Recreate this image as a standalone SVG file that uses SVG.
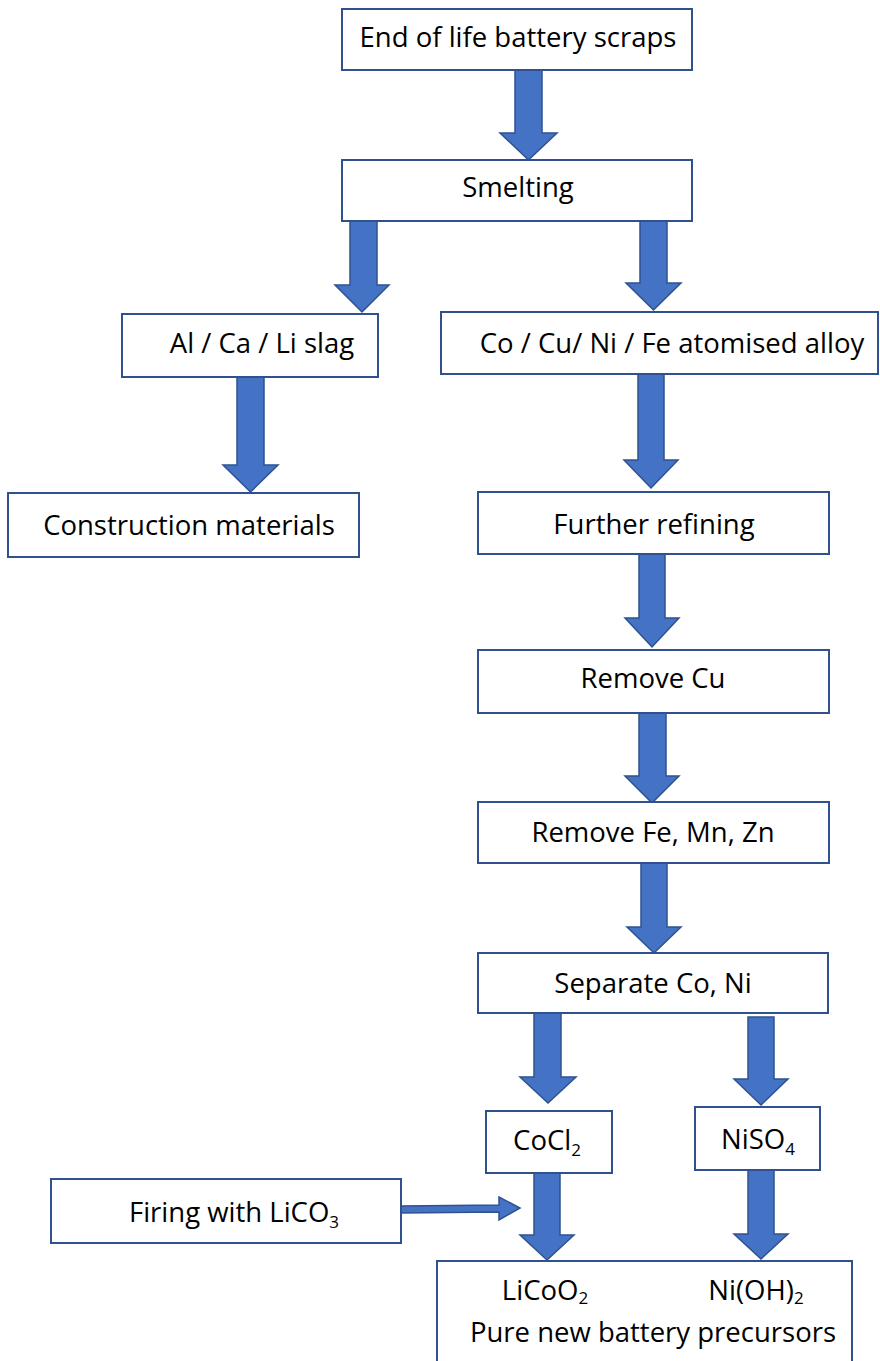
<svg xmlns="http://www.w3.org/2000/svg" width="880" height="1361" viewBox="0 0 880 1361">
<style>
.box{fill:#ffffff;stroke:#2F528F;stroke-width:2}
.arr{fill:#4472C4;stroke:#2F528F;stroke-width:1.5;stroke-linejoin:miter}
.t{font-family:"Open Sans","Liberation Sans",sans-serif;font-size:27.5px;fill:#000000;text-anchor:middle}
.sub{font-size:17px}
</style>
<rect x="0" y="0" width="880" height="1361" fill="#ffffff"/>
<g id="connectors">
<polygon class="arr" points="515,70 542,70 542,133 557,133 528.5,160 500,133 515,133"/>
<polygon class="arr" points="350,221 377,221 377,285 389,285 362,312 335,285 350,285"/>
<polygon class="arr" points="640,221 667,221 667,283 681,283 653.5,310 626,283 640,283"/>
<polygon class="arr" points="237,377 264,377 264,465 278,465 250.5,492 223,465 237,465"/>
<polygon class="arr" points="638,374 664,374 664,460 678,460 651,488 624,460 638,460"/>
<polygon class="arr" points="639,554 665,554 665,618 679,618 652,647 625,618 639,618"/>
<polygon class="arr" points="639,713 666,713 666,776 679,776 652,803 625,776 639,776"/>
<polygon class="arr" points="641,863 667,863 667,927 681,927 654,953 627,927 641,927"/>
<polygon class="arr" points="534,1013 561,1013 561,1077 576,1077 548,1103 520,1077 534,1077"/>
<polygon class="arr" points="748,1017 774,1017 774,1079 788,1079 761,1105 734,1079 748,1079"/>
<polygon class="arr" points="534,1173 560,1173 560,1235 574,1235 547,1260 520,1235 534,1235"/>
<polygon class="arr" points="748,1170 774,1170 774,1234 788,1234 761,1259 734,1234 748,1234"/>
<polygon class="arr" stroke-width="1" points="401,1206 499,1205 499,1197 520,1208 499,1220 499,1212 401,1213"/>
</g>
<g id="n1"><rect class="box" x="342" y="9" width="350" height="61"/><text class="t" x="518" y="47">End of life battery scraps</text></g>
<g id="n2"><rect class="box" x="342" y="160" width="350" height="61"/><text class="t" x="518" y="197">Smelting</text></g>
<g id="n3"><rect class="box" x="122" y="314" width="256" height="63"/><text class="t" x="262" y="353">Al / Ca / Li slag</text></g>
<g id="n4"><rect class="box" x="441" y="312" width="437" height="62"/><text class="t" x="672" y="353">Co / Cu/ Ni / Fe atomised alloy</text></g>
<g id="n5"><rect class="box" x="8" y="493" width="351" height="64"/><text class="t" x="189" y="535">Construction materials</text></g>
<g id="n6"><rect class="box" x="478" y="492" width="351" height="62"/><text class="t" x="654" y="534">Further refining</text></g>
<g id="n7"><rect class="box" x="478" y="650" width="351" height="63"/><text class="t" x="653" y="688">Remove Cu</text></g>
<g id="n8"><rect class="box" x="478" y="802" width="351" height="61"/><text class="t" x="653" y="842">Remove Fe, Mn, Zn</text></g>
<g id="n9"><rect class="box" x="478" y="953" width="350" height="60"/><text class="t" x="653" y="993">Separate Co, Ni</text></g>
<g id="n10"><rect class="box" x="486" y="1111" width="126" height="62"/><text class="t" x="547" y="1150">CoCl<tspan class="sub" dy="6">2</tspan></text></g>
<g id="n11"><rect class="box" x="695" y="1107" width="125" height="63"/><text class="t" x="758" y="1149">NiSO<tspan class="sub" dy="6">4</tspan></text></g>
<g id="n12"><rect class="box" x="51" y="1179" width="350" height="64"/><text class="t" x="234" y="1222">Firing with LiCO<tspan class="sub" dy="6">3</tspan></text></g>
<g id="n13"><rect class="box" x="437" y="1261" width="415" height="110"/>
<text class="t" x="545" y="1300">LiCoO<tspan class="sub" dy="4">2</tspan></text>
<text class="t" x="756" y="1300">Ni(OH)<tspan class="sub" dy="4">2</tspan></text>
<text class="t" x="653" y="1342">Pure new battery precursors</text></g>
</svg>
